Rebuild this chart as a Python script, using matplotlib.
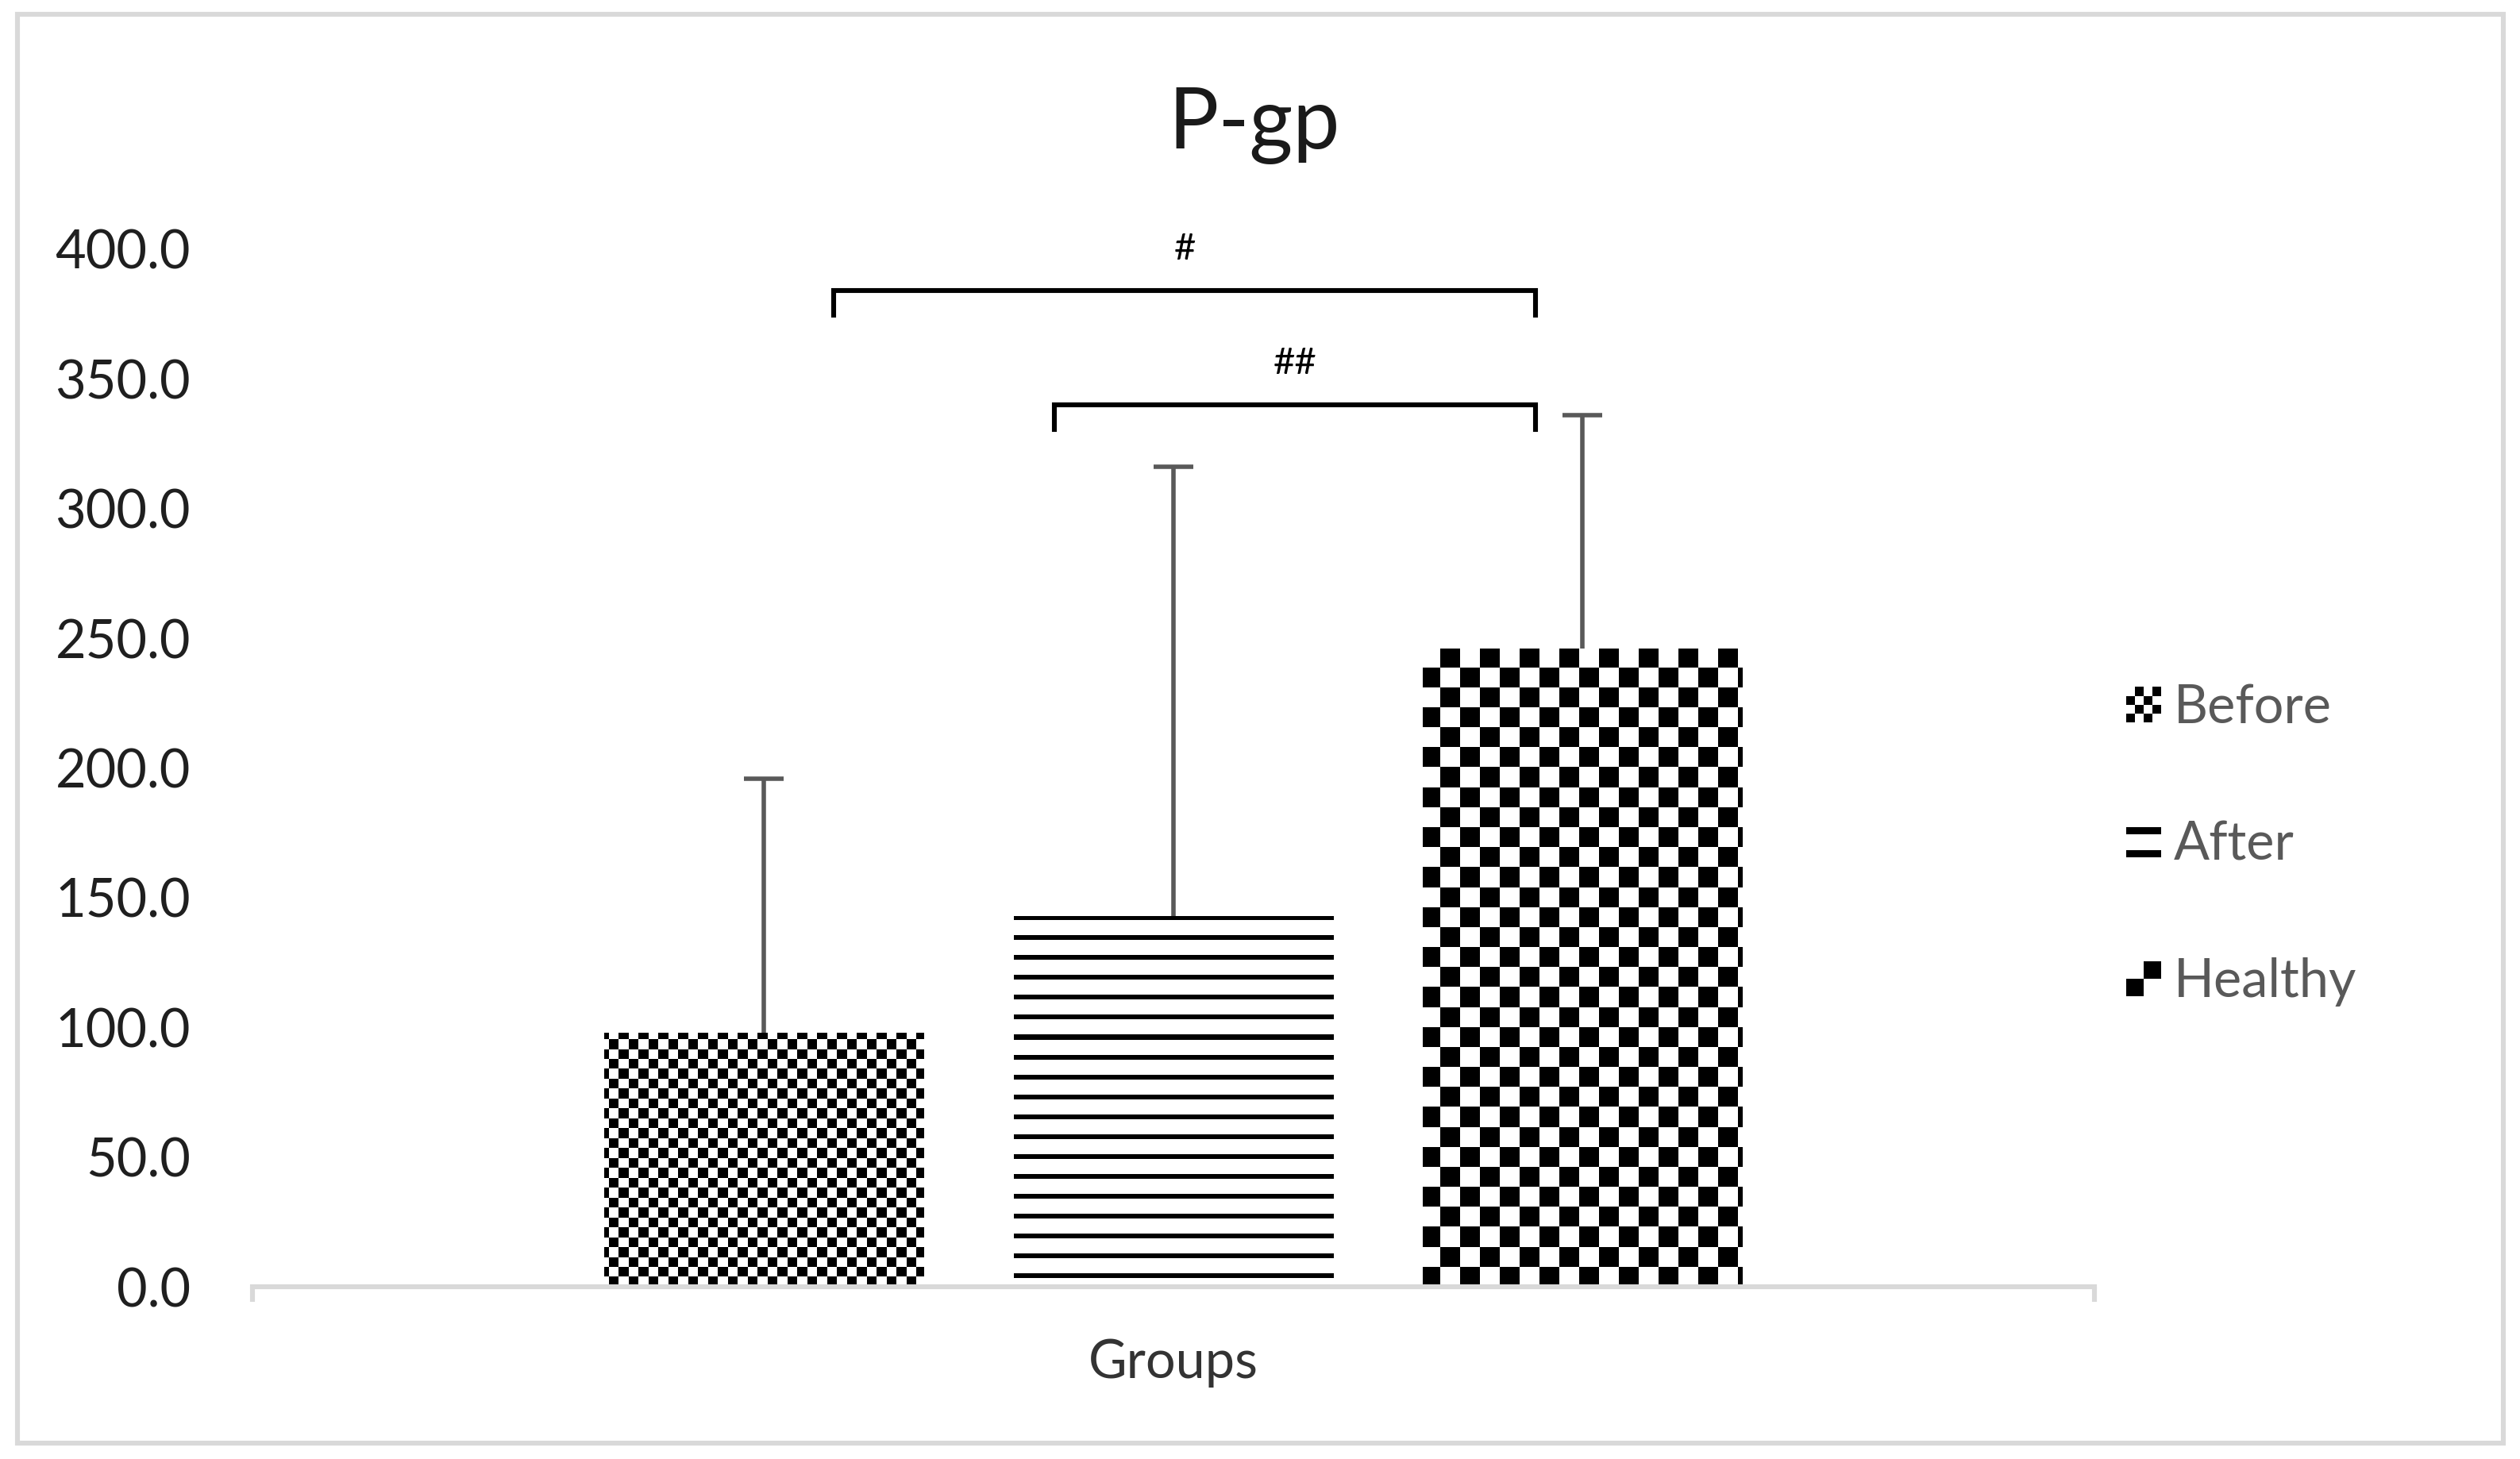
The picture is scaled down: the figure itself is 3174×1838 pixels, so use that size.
import numpy as np
import matplotlib
matplotlib.use("Agg")
import matplotlib.pyplot as plt
from matplotlib.patches import Rectangle
from matplotlib.legend_handler import HandlerBase

# Dados
grupos = ["Before", "After", "Healthy"]
medias = [98.0, 143.0, 246.0]
desvios = [98.0, 173.0, 90.0]
y_ticks = [0, 50, 100, 150, 200, 250, 300, 350, 400]

# Colchetes de significância
colchete_ini = [-0.83, -0.29]
colchete_fim = [0.886, 0.886]
colchete_alt = [384, 340]
colchete_txt = ["#", "##"]

# Textura de cada barra: (tipo, tamanho da célula em px)
PADROES = {
    "Before": ("xadrez", 12.5),
    "After": ("listras", 25),
    "Healthy": ("xadrez", 25),
}

FONTE = "Lato"
plt.rcParams["font.family"] = [FONTE, "DejaVu Sans"]

DPI = 200
fig = plt.figure(figsize=(3174 / DPI, 1838 / DPI), dpi=DPI)
pos = [0.1001, 0.118, 0.7309, 0.7113]
ax = fig.add_axes(pos)

XLIM = (-2.25, 2.25)
YLIM = (0, 400)
largura_px = pos[2] * 3174
altura_px = pos[3] * 1838


def textura(tipo, celula, altura_barra):
    if tipo == "xadrez":
        nx = int(round(largura_px / celula))
        ny = int(round(altura_px / celula))
        ii, jj = np.indices((ny, nx))
        return ((ii + jj) % 2 == 0).astype(float)
    linhas = np.arange(int(round(altura_px)))
    desloc = int(round((YLIM[1] - altura_barra) / (YLIM[1] - YLIM[0]) * altura_px))
    return (((linhas - desloc) % celula) < 6).astype(float)[:, None]


x = np.arange(len(grupos)) - 1
barras = []
for xi, g, m in zip(x, grupos, medias):
    bc = ax.bar(xi, m, width=0.78, color="white", linewidth=0, label=g, zorder=1)
    rect = bc.patches[0]
    tipo, cel = PADROES[g]
    img = ax.imshow(textura(tipo, cel, m), cmap="gray_r", vmin=0, vmax=1,
                    extent=(XLIM[0], XLIM[1], YLIM[0], YLIM[1]),
                    aspect="auto", interpolation="nearest", zorder=1.5)
    img.set_clip_path(rect)
    barras.append(rect)

eb = ax.errorbar(x, medias, yerr=[np.zeros(len(medias)), desvios], fmt="none",
                 ecolor="#595959", elinewidth=2, capsize=9, capthick=2, zorder=3)
for cap in eb[1]:
    if np.allclose(cap.get_ydata(), medias):
        cap.set_visible(False)

# colchetes
for xa, xb, h, t in zip(colchete_ini, colchete_fim, colchete_alt, colchete_txt):
    ax.plot([xa, xa, xb, xb], [h - 9.5, h, h, h - 9.5], color="black", lw=2.2,
            clip_on=False, solid_joinstyle="miter")
    ax.text((xa + xb) / 2, h + 16, t, ha="center", va="center", fontsize=17,
            color="black")

ax.set_xlim(XLIM)
ax.set_ylim(YLIM)
ax.set_yticks(y_ticks)
ax.set_yticklabels([f"{v:.1f}" for v in y_ticks])
ax.tick_params(axis="y", length=0, pad=28, labelsize=24, labelcolor="#1f1f1f")
ax.set_xticks(XLIM)
ax.set_xticklabels([])
ax.tick_params(axis="x", direction="out", length=7, width=2.2, color="#d9d9d9")

for lado in ["left", "right", "top"]:
    ax.spines[lado].set_visible(False)
ax.spines["bottom"].set_color("#d9d9d9")
ax.spines["bottom"].set_linewidth(2.2)

ax.set_xlabel("Groups", fontsize=24, color="#333333")
ax.xaxis.label.set_va("center")
ax.xaxis.set_label_coords(0.5, -0.073)

fig.text(0.4975, 0.914, "P-gp", ha="center", va="center", fontsize=38, color="#1a1a1a")


class HandlerTextura(HandlerBase):
    def __init__(self, tipo, n):
        super().__init__()
        self.tipo = tipo
        self.n = n

    def create_artists(self, legend, orig_handle, xdescent, ydescent,
                       width, height, fontsize, trans):
        x0, y0 = -xdescent, -ydescent
        arts = []
        if self.tipo == "xadrez":
            cw, ch = width / self.n, height / self.n
            for i in range(self.n):
                for j in range(self.n):
                    if (i + j) % 2 == 0:
                        arts.append(Rectangle((x0 + j * cw, y0 + i * ch), cw, ch,
                                              facecolor="black", lw=0, transform=trans))
        else:
            for fy in (0.05, 0.72):
                arts.append(Rectangle((x0, y0 + fy * height), width, 0.2 * height,
                                      facecolor="black", lw=0, transform=trans))
        return arts


handlers = {
    barras[0]: HandlerTextura("xadrez", 4),
    barras[1]: HandlerTextura("listras", 0),
    barras[2]: HandlerTextura("xadrez", 2),
}
ax.legend(barras, grupos, handler_map=handlers, loc="center left",
          bbox_to_anchor=(0.8438, 0.4207), bbox_transform=fig.transFigure,
          frameon=False, fontsize=24, labelcolor="#595959", borderpad=0,
          borderaxespad=0, handlelength=0.65, handleheight=0.65,
          handletextpad=0.25, labelspacing=1.66)

# moldura externa
fig.patches.append(Rectangle((0.007, 0.011), 0.9865, 0.979, transform=fig.transFigure,
                             fill=False, edgecolor="#d9d9d9", linewidth=2.2))

fig.savefig("out.png", dpi=DPI)
